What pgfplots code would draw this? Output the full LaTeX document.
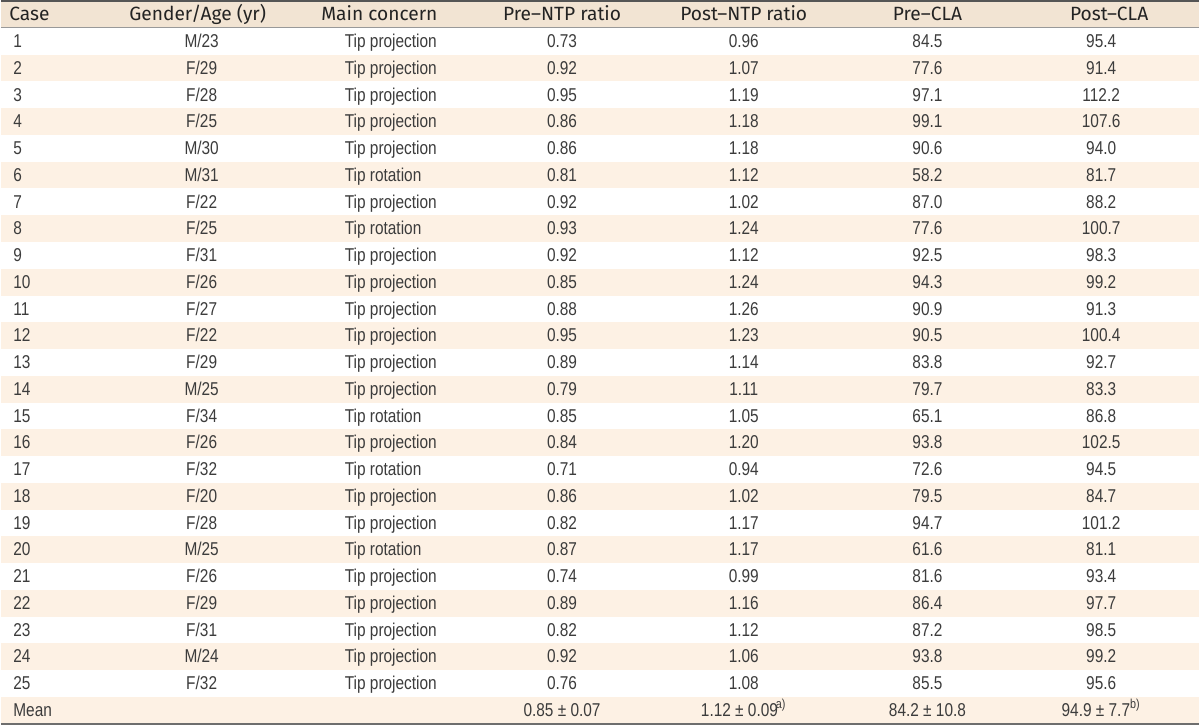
\documentclass[border=0pt]{standalone}
\usepackage{pgfplots}
\usepackage{pgfplotstable}
\pgfplotsset{compat=1.18}
\usepackage{fontspec}
\setmainfont[FakeStretch=0.83]{Liberation Sans}
\newfontfamily\headfont{Fira Sans}
\definecolor{headbg}{RGB}{242,228,211}
\definecolor{stripe}{RGB}{253,241,228}
\definecolor{bodytext}{RGB}{60,60,60}
\definecolor{headtext}{RGB}{35,35,35}
\definecolor{rule}{RGB}{85,85,85}

\pgfplotstableread[col sep=comma]{
row,case,ga,mc,pre,post,precla,postcla
1,1,M/23,Tip projection,0.73,0.96,84.5,95.4
2,2,F/29,Tip projection,0.92,1.07,77.6,91.4
3,3,F/28,Tip projection,0.95,1.19,97.1,112.2
4,4,F/25,Tip projection,0.86,1.18,99.1,107.6
5,5,M/30,Tip projection,0.86,1.18,90.6,94.0
6,6,M/31,Tip rotation,0.81,1.12,58.2,81.7
7,7,F/22,Tip projection,0.92,1.02,87.0,88.2
8,8,F/25,Tip rotation,0.93,1.24,77.6,100.7
9,9,F/31,Tip projection,0.92,1.12,92.5,98.3
10,10,F/26,Tip projection,0.85,1.24,94.3,99.2
11,11,F/27,Tip projection,0.88,1.26,90.9,91.3
12,12,F/22,Tip projection,0.95,1.23,90.5,100.4
13,13,F/29,Tip projection,0.89,1.14,83.8,92.7
14,14,M/25,Tip projection,0.79,1.11,79.7,83.3
15,15,F/34,Tip rotation,0.85,1.05,65.1,86.8
16,16,F/26,Tip projection,0.84,1.20,93.8,102.5
17,17,F/32,Tip rotation,0.71,0.94,72.6,94.5
18,18,F/20,Tip projection,0.86,1.02,79.5,84.7
19,19,F/28,Tip projection,0.82,1.17,94.7,101.2
20,20,M/25,Tip rotation,0.87,1.17,61.6,81.1
21,21,F/26,Tip projection,0.74,0.99,81.6,93.4
22,22,F/29,Tip projection,0.89,1.16,86.4,97.7
23,23,F/31,Tip projection,0.82,1.12,87.2,98.5
24,24,M/24,Tip projection,0.92,1.06,93.8,99.2
25,25,F/32,Tip projection,0.76,1.08,85.5,95.6
26,Mean,,,{0.85 ± 0.07},{1.12 ± 0.09\textsuperscript{\kern-1pt a)}},{84.2 ± 10.8},{94.9 ± 7.7\textsuperscript{b)}}
}\datatable

\begin{document}
\begin{tikzpicture}
\begin{axis}[
  scale only axis, width=600pt, height=363.5pt,
  xmin=0, xmax=1200, ymin=0, ymax=727, y dir=reverse,
  hide axis, clip=false,
  every node near coord/.style={anchor=base, inner sep=0pt, font=\fontsize{9.3}{10}\selectfont, text=bodytext},
]
% backgrounds
\fill[white] (axis cs:0,0) rectangle (axis cs:1200,727);
\fill[headbg] (axis cs:0,1.5) rectangle (axis cs:1200,28);
\pgfplotsinvokeforeach{2,4,...,26}{
  \fill[stripe] (axis cs:0,{28+(#1-1)*26.8}) rectangle (axis cs:1200,{28+#1*26.8});
}
\draw[rule, line width=1pt] (axis cs:0,1) -- (axis cs:1200,1);
\draw[gray!80, line width=0.5pt] (axis cs:0,28) -- (axis cs:1200,28);
\draw[rule!85, line width=1pt] (axis cs:0,725.5) -- (axis cs:1200,725.5);

% header
\begin{scope}[every node/.style={anchor=base, inner sep=0pt, text=headtext, font=\headfont\fontsize{9.6}{11}\selectfont}]
\node[anchor=base west] at (axis cs:8,21) {Case};
\node at (axis cs:197,21) {Gender/Age (yr)};
\node at (axis cs:379,21) {Main concern};
\node at (axis cs:562,21) {Pre–NTP ratio};
\node at (axis cs:744,21) {Post–NTP ratio};
\node at (axis cs:928,21) {Pre–CLA};
\node at (axis cs:1110,21) {Post–CLA};
\end{scope}

% columns
\addplot[draw=none, mark=none, nodes near coords, point meta=explicit symbolic,
  every node near coord/.append style={anchor=base west}]
  table[x expr=12, y expr=26.8*\thisrow{row}+20.8, meta=case] {\datatable};
\addplot[draw=none, mark=none, nodes near coords, point meta=explicit symbolic]
  table[x expr=201, y expr=26.8*\thisrow{row}+20.8, meta=ga] {\datatable};
\addplot[draw=none, mark=none, nodes near coords, point meta=explicit symbolic,
  every node near coord/.append style={anchor=base west}]
  table[x expr=344, y expr=26.8*\thisrow{row}+20.8, meta=mc] {\datatable};
\addplot[draw=none, mark=none, nodes near coords, point meta=explicit symbolic]
  table[x expr=562, y expr=26.8*\thisrow{row}+20.8, meta=pre] {\datatable};
\addplot[draw=none, mark=none, nodes near coords, point meta=explicit symbolic]
  table[x expr=744, y expr=26.8*\thisrow{row}+20.8, meta=post] {\datatable};
\addplot[draw=none, mark=none, nodes near coords, point meta=explicit symbolic]
  table[x expr=928, y expr=26.8*\thisrow{row}+20.8, meta=precla] {\datatable};
\addplot[draw=none, mark=none, nodes near coords, point meta=explicit symbolic]
  table[x expr=1102, y expr=26.8*\thisrow{row}+20.8, meta=postcla] {\datatable};
\end{axis}
\end{tikzpicture}
\end{document}
